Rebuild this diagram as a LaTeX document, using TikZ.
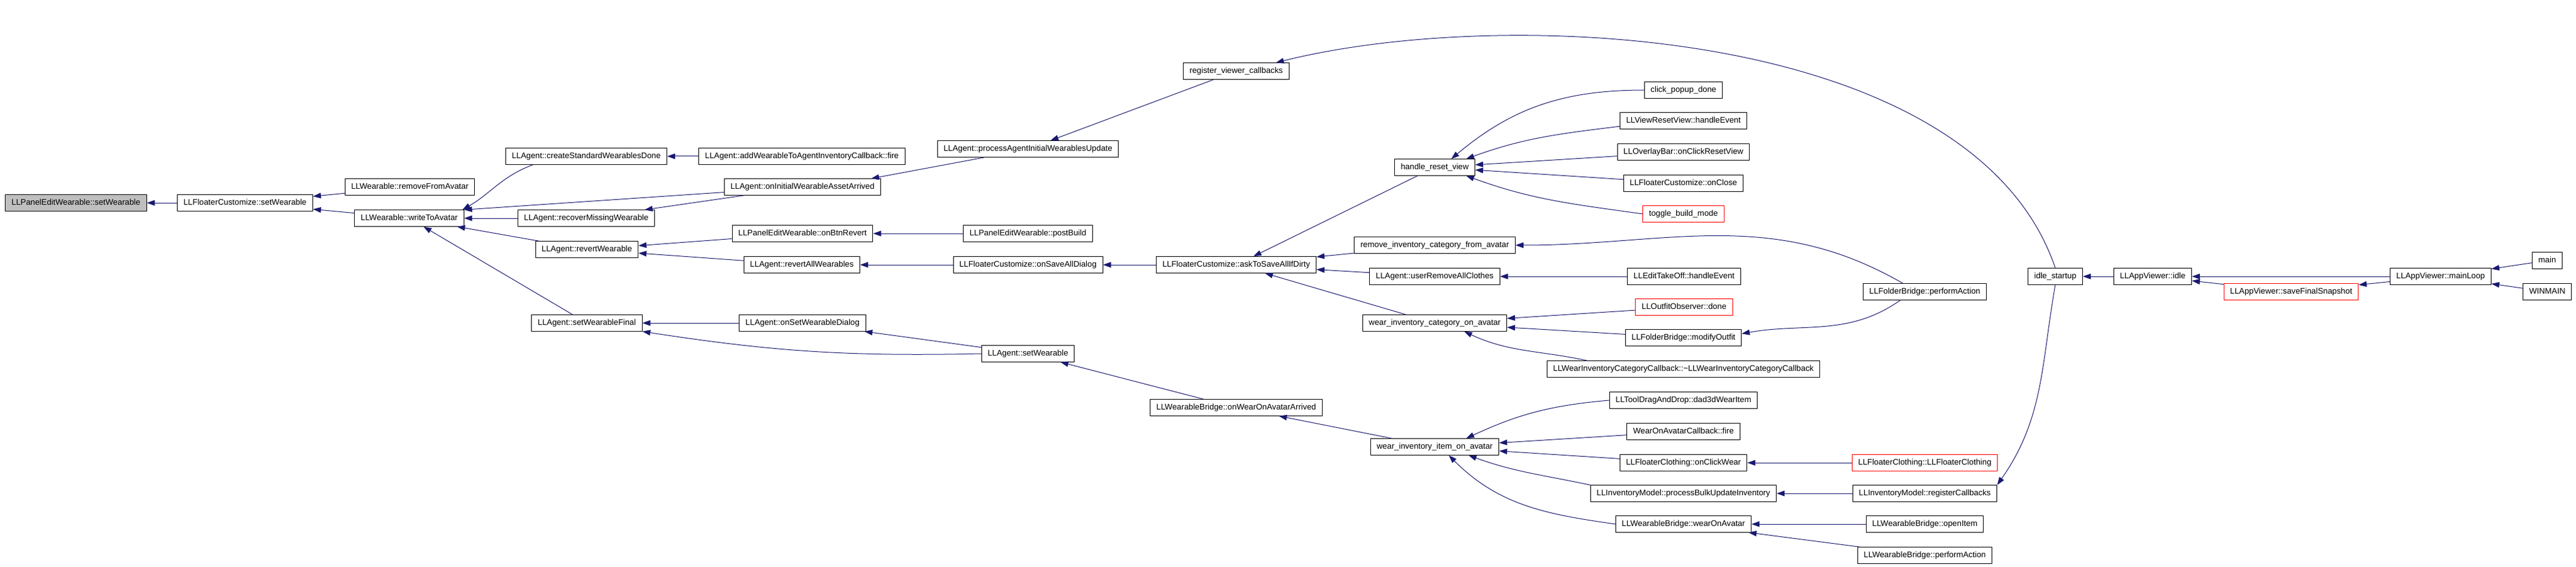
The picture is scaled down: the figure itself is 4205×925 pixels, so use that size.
\documentclass[tikz,border=0pt]{standalone}
\usepackage{fontspec}
\setmainfont{Liberation Sans}
\usetikzlibrary{arrows.meta}
\definecolor{edgeblue}{HTML}{191970}
\definecolor{rootgray}{HTML}{BFBFBF}

\begin{document}
\begin{tikzpicture}[x=1pt,y=1pt,
  fn/.style={draw=black, line width=1pt, fill=white, inner xsep=10pt, inner ysep=0pt,
    minimum height=26.5pt, text height=9.6pt, text depth=2.6pt,
    font=\fontsize{13.3}{15}\selectfont},
  cut/.style={fn, draw=red},
  root/.style={fn, fill=rootgray},
  call/.style={edgeblue, line width=1pt, -{Triangle[length=13pt,width=9pt]}}]
\useasboundingbox (0,0) rectangle (4205,-925);
%\draw [help lines] (0,0) grid[step=100] (4205,-925);
\node [root] (pews) at (124,-331) {LLPanelEditWearable::setWearable};
\node [fn] (fcsw) at (400,-331) {LLFloaterCustomize::setWearable};
\node [fn] (rfa) at (669,-305) {LLWearable::removeFromAvatar};
\node [fn] (wta) at (668,-356) {LLWearable::writeToAvatar};
\node [fn] (csw) at (957,-255) {LLAgent::createStandardWearablesDone};
\node [fn] (rmw) at (957,-356) {LLAgent::recoverMissingWearable};
\node [fn] (rw) at (958,-407) {LLAgent::revertWearable};
\node [fn] (swf) at (958,-527) {LLAgent::setWearableFinal};
\node [fn] (fire) at (1309,-255) {LLAgent::addWearableToAgentInventoryCallback::fire};
\node [fn] (oiwaa) at (1310,-305) {LLAgent::onInitialWearableAssetArrived};
\node [fn] (obr) at (1310,-381) {LLPanelEditWearable::onBtnRevert};
\node [fn] (raw) at (1309,-432) {LLAgent::revertAllWearables};
\node [fn] (oswd) at (1310,-527) {LLAgent::onSetWearableDialog};
\node [fn] (paiwu) at (1678,-243) {LLAgent::processAgentInitialWearablesUpdate};
\node [fn] (pb) at (1678,-381) {LLPanelEditWearable::postBuild};
\node [fn] (osad) at (1678,-432) {LLFloaterCustomize::onSaveAllDialog};
\node [fn] (asw) at (1678,-577) {LLAgent::setWearable};
\node [fn] (rvc) at (2018,-116) {register\_viewer\_callbacks};
\node [fn] (atsad) at (2018,-432) {LLFloaterCustomize::askToSaveAllIfDirty};
\node [fn] (owoaa) at (2018,-665) {LLWearableBridge::onWearOnAvatarArrived};
\node [fn] (hrv) at (2342,-273) {handle\_reset\_view};
\node [fn] (ricfa) at (2342,-400) {remove\_inventory\_category\_from\_avatar};
\node [fn] (urac) at (2342,-451) {LLAgent::userRemoveAllClothes};
\node [fn] (wicoa) at (2342,-527) {wear\_inventory\_category\_on\_avatar};
\node [fn] (wiioa) at (2342,-729) {wear\_inventory\_item\_on\_avatar};
\node [fn] (cpd) at (2748,-147) {click\_popup\_done};
\node [fn] (vrv) at (2748,-197) {LLViewResetView::handleEvent};
\node [fn] (obcrv) at (2748,-248) {LLOverlayBar::onClickResetView};
\node [fn] (fco) at (2748,-299) {LLFloaterCustomize::onClose};
\node [cut] (tbm) at (2748,-349) {toggle\_build\_mode};
\node [fn] (eto) at (2749,-451) {LLEditTakeOff::handleEvent};
\node [cut] (ood) at (2749,-501) {LLOutfitObserver::done};
\node [fn] (fbmo) at (2748,-551) {LLFolderBridge::modifyOutfit};
\node [fn] (wiccb) at (2748,-602) {LLWearInventoryCategoryCallback::\textasciitilde LLWearInventoryCategoryCallback};
\node [fn] (dad) at (2748,-653) {LLToolDragAndDrop::dad3dWearItem};
\node [fn] (woacf) at (2748,-704) {WearOnAvatarCallback::fire};
\node [fn] (ocw) at (2748,-755) {LLFloaterClothing::onClickWear};
\node [fn] (pbui) at (2748,-805) {LLInventoryModel::processBulkUpdateInventory};
\node [fn] (wbwoa) at (2748,-855) {LLWearableBridge::wearOnAvatar};
\node [fn] (fbpa) at (3142,-476) {LLFolderBridge::performAction};
\node [cut] (flcc) at (3142,-755) {LLFloaterClothing::LLFloaterClothing};
\node [fn] (rcb) at (3142,-805) {LLInventoryModel::registerCallbacks};
\node [fn] (oi) at (3142,-855) {LLWearableBridge::openItem};
\node [fn] (wbpa) at (3142,-906) {LLWearableBridge::performAction};
\node [fn] (ids) at (3355,-451) {idle\_startup};
\node [fn] (idle) at (3514,-451) {LLAppViewer::idle};
\node [cut] (sfs) at (3740,-476) {LLAppViewer::saveFinalSnapshot};
\node [fn] (ml) at (3984,-451) {LLAppViewer::mainLoop};
\node [fn] (main) at (4158,-425) {main};
\node [fn] (winmain) at (4158,-476) {WINMAIN};
% callers -> callee
\draw [call] (fcsw) -- (pews);
\draw [call] (rfa) -- (fcsw);
\draw [call] (wta) -- (fcsw);
\draw [call] (csw.189) to[out=-160,in=30] (wta.9);
\draw [call] (oiwaa) -- (wta.north east);
\draw [call] (rmw) -- (wta);
\draw [call] (rw) -- (wta);
\draw [call] (swf) -- (wta);
\draw [call] (fire) -- (csw);
\draw [call] (paiwu.-169) -- (oiwaa.7);
\draw [call] (oiwaa) -- (rmw);
\draw [call] (obr) -- (rw);
\draw [call] (raw) -- (rw);
\draw [call] (oswd) -- (swf);
\draw [call] (asw.west) to[bend left=5] (swf.south east);
\draw [call] (asw) -- (oswd);
\draw [call] (rvc) -- (paiwu);
\draw [call] (pb) -- (obr);
\draw [call] (osad) -- (raw);
\draw [call] (atsad) -- (osad);
\draw [call] (owoaa) -- (asw);
\draw [call] (ids.north) .. controls (3220,-40) and (2450,-10) .. (rvc.12);
\draw [call] (hrv) -- (atsad);
\draw [call] (ricfa) -- (atsad);
\draw [call] (urac) -- (atsad);
\draw [call] (wicoa) -- (atsad);
\draw [call] (cpd.west) to[out=180,in=40] (hrv.27);
\draw [call] (vrv.185) to[out=187,in=20] (hrv.15);
\draw [call] (obcrv) -- (hrv);
\draw [call] (fco) -- (hrv);
\draw [call] (tbm.west) to[out=172,in=-20] (hrv.-15);
\draw [call] (fbpa.159) to[out=150,in=0] (ricfa.east);
\draw [call] (eto) -- (urac);
\draw [call] (ood) -- (wicoa);
\draw [call] (fbmo) -- (wicoa);
\draw [call] (wiccb.175) to[out=168,in=-25] (wicoa.-16);
\draw [call] (fbpa.-161) to[out=-145,in=10] (fbmo.4);
\draw [call] (wiioa) -- (owoaa);
\draw [call] (dad.west) to[out=185,in=25] (wiioa.15);
\draw [call] (woacf) -- (wiioa);
\draw [call] (ocw) -- (wiioa);
\draw [call] (pbui.north west) to[out=168,in=-20] (wiioa.-14);
\draw [call] (wbwoa.west) to[out=172,in=-45] (wiioa.-31);
\draw [call] (flcc) -- (ocw);
\draw [call] (rcb) -- (pbui);
\draw [call] (oi) -- (wbwoa);
\draw [call] (wbpa) -- (wbwoa);
\draw [call] (ids.south) to[out=-100,in=55] (rcb.north east);
\draw [call] (idle) -- (ids);
\draw [call] (ml) -- (idle);
\draw [call] (sfs) -- (idle);
\draw [call] (ml) -- (sfs);
\draw [call] (main) -- (ml);
\draw [call] (winmain) -- (ml);
\end{tikzpicture}
\end{document}
